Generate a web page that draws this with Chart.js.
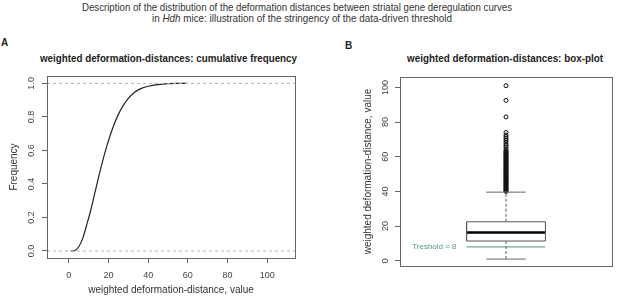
<!DOCTYPE html>
<html>
<head>
<meta charset="utf-8">
<script src="https://cdn.jsdelivr.net/npm/chart.js@4.4.0/dist/chart.umd.min.js"></script>
<style>
  body { margin: 0; background: #fff; font-family: "Liberation Sans", Arial, sans-serif; }
  #page { position: relative; width: 617px; height: 298px; overflow: hidden; }
  .txt { position: absolute; color: #333; white-space: nowrap; transform-origin: left top; }
  canvas { position: absolute; }
</style>
</head>
<body>
<div id="page">
  <div class="txt" id="t1" style="top:2px;font-size:10.5px;line-height:10.5px;">Description of the distribution of the deformation distances between striatal gene deregulation curves</div>
  <div class="txt" id="t2" style="top:13px;font-size:10.5px;line-height:10.5px;">in <i>Hdh</i> mice: illustration of the stringency of the data-driven threshold</div>
  <div class="txt" style="left:1px;top:37px;font-size:10px;font-weight:bold;color:#222;">A</div>
  <div class="txt" style="left:345px;top:40px;font-size:10px;font-weight:bold;color:#222;">B</div>
  <div class="txt" id="tA" style="top:53.5px;font-size:10px;line-height:10px;font-weight:bold;color:#222;">weighted deformation-distances: cumulative frequency</div>
  <div class="txt" id="tB" style="top:54px;font-size:10px;line-height:10px;font-weight:bold;color:#222;">weighted deformation-distances: box-plot</div>
  <canvas id="chartA" width="310" height="238" style="left:0;top:60px;"></canvas>
  <canvas id="chartB" width="297" height="238" style="left:320px;top:60px;"></canvas>
</div>
<script>
// panel A: cumulative frequency of weighted deformation-distances
const cdfX = [1, 3, 5, 7, 9, 11, 13, 15, 17, 19, 21, 23, 25, 27, 30, 33, 36, 40, 45, 50, 55, 59.6];
const cdfY = [0, 0.003, 0.025, 0.075, 0.155, 0.24, 0.34, 0.44, 0.535, 0.62, 0.695, 0.76, 0.815, 0.86, 0.91, 0.945, 0.967, 0.983, 0.993, 0.998, 1.0, 1.0];
const cdfXTicks = [0, 20, 40, 60, 80, 100];
const cdfYTicks = [0, 0.2, 0.4, 0.6, 0.8, 1.0];
const cdfRefLines = [0, 1];

// panel B: box-plot (lower whisker, Q1, median, Q3, upper whisker)
const boxFive = [1, 11.4, 16.3, 22.5, 39.6];
const boxOutliers = [
  40, 40.5, 41, 41.5, 42, 42.5, 43, 43.5, 44, 44.5, 45, 45.5, 46, 46.5, 47, 47.5,
  48, 48.5, 49, 49.5, 50, 50.5, 51, 51.5, 52, 52.5, 53, 53.5, 54, 54.5, 55, 55.5,
  56, 56.5, 57, 57.5, 58, 58.5, 59, 59.5, 60, 60.5, 61, 61.5, 62, 62.5, 63, 63.5,
  64.5, 65.5, 66.5, 67.5, 68.5, 69.5, 70.5, 71.5, 72.5, 74, 83, 92.5, 101
];
const boxYTicks = [0, 20, 40, 60, 80, 100];
const threshold = 8;
const thresholdLabel = 'Treshold = 8';

const FONT = '"Liberation Sans", Arial, sans-serif';
const AXIS_COL = '#666';
const TEXT_COL = '#444';

// stretch a text line to the span it has in the figure
function fitText(id, left, width) {
  const el = document.getElementById(id);
  const w = el.getBoundingClientRect().width;
  el.style.left = left + 'px';
  el.style.transform = 'scaleX(' + (width / w) + ')';
}
fitText('t1', 82, 430);
fitText('t2', 152, 300);
fitText('tA', 40, 257);
fitText('tB', 407, 196);

// draws the R-style box around the plot region
const frame = {
  id: 'frame',
  afterDatasetsDraw(chart) {
    const a = chart.chartArea, ctx = chart.ctx;
    ctx.save();
    ctx.strokeStyle = AXIS_COL;
    ctx.lineWidth = 1;
    ctx.strokeRect(Math.round(a.left) + 0.5, Math.round(a.top) + 0.5,
      Math.round(a.right - a.left), Math.round(a.bottom - a.top));
    ctx.restore();
  }
};

function tickOpts(fmt, pad) {
  return { font: { family: FONT, size: 9 }, color: TEXT_COL, padding: pad, callback: fmt };
}

const chartA = new Chart(document.getElementById('chartA'), {
  type: 'scatter',
  data: {
    datasets: [
      ...cdfRefLines.map(v => ({
        data: [{ x: -11, y: v }, { x: 114, y: v }],
        showLine: true, borderColor: '#b5b5b5', borderWidth: 1, borderDash: [3, 3],
        pointRadius: 0
      })),
      {
        data: cdfX.map((x, i) => ({ x, y: cdfY[i] })),
        showLine: true, borderColor: '#222', borderWidth: 1.2,
        cubicInterpolationMode: 'monotone', pointRadius: 0
      }
    ]
  },
  options: {
    responsive: false, animation: false, devicePixelRatio: 1,
    layout: { padding: { left: 0, top: 16, right: 15, bottom: 0 } },
    plugins: { legend: { display: false }, tooltip: { enabled: false } },
    scales: {
      x: {
        type: 'linear', min: -11, max: 114,
        afterBuildTicks: s => { s.ticks = cdfXTicks.map(v => ({ value: v })); },
        afterFit: s => { s.height = 40; },
        grid: { drawOnChartArea: false, tickLength: 5, color: AXIS_COL },
        border: { display: false },
        ticks: tickOpts(v => v, 7),
        title: { display: true, text: 'weighted deformation-distance, value', color: '#333',
          font: { family: FONT, size: 10 }, padding: { top: 0, bottom: 2 } }
      },
      y: {
        type: 'linear', min: -0.042, max: 1.044,
        afterBuildTicks: s => { s.ticks = cdfYTicks.map(v => ({ value: v })); },
        afterFit: s => { s.width = 47; },
        grid: { drawOnChartArea: false, tickLength: 5, color: AXIS_COL },
        border: { display: false },
        ticks: Object.assign(tickOpts(v => v.toFixed(1), 4),
          { minRotation: 90, maxRotation: 90, crossAlign: 'center' }),
        title: { display: true, text: 'Frequency', color: '#333',
          font: { family: FONT, size: 10 }, padding: { top: 8, bottom: 0 } }
      }
    }
  },
  plugins: [frame]
});

const X0 = 0.814, X1 = 1.186, C0 = 0.907, C1 = 1.093;
const [wLo, q1, med, q3, wHi] = boxFive;

const thresholdText = {
  id: 'thresholdText',
  afterDatasetsDraw(chart) {
    const ctx = chart.ctx, xs = chart.scales.x, ys = chart.scales.y;
    ctx.save();
    ctx.fillStyle = '#4f9a78';
    ctx.font = '8px ' + FONT;
    ctx.textAlign = 'right';
    ctx.textBaseline = 'middle';
    ctx.fillText(thresholdLabel, xs.getPixelForValue(X0) - 10, ys.getPixelForValue(threshold));
    ctx.restore();
  }
};

const seg = (pts, color, width, dash) => ({
  data: pts, showLine: true, borderColor: color, borderWidth: width,
  borderDash: dash || [], pointRadius: 0
});

const chartB = new Chart(document.getElementById('chartB'), {
  type: 'scatter',
  data: {
    datasets: [
      seg([{ x: 1, y: wLo }, { x: 1, y: q1 }], '#777', 1.2, [3, 2]),
      seg([{ x: 1, y: q3 }, { x: 1, y: wHi }], '#777', 1.2, [3, 2]),
      seg([{ x: C0, y: wLo }, { x: C1, y: wLo }], '#666', 1),
      seg([{ x: C0, y: wHi }, { x: C1, y: wHi }], '#666', 1),
      seg([{ x: X0, y: q1 }, { x: X1, y: q1 }, { x: X1, y: q3 }, { x: X0, y: q3 }, { x: X0, y: q1 }], '#555', 1),
      seg([{ x: X0, y: med }, { x: X1, y: med }], '#000', 2.5),
      seg([{ x: X0, y: threshold }, { x: X1, y: threshold }], '#4f9a78', 1),
      {
        data: boxOutliers.map(v => ({ x: 1, y: v })),
        pointRadius: 2, pointBorderWidth: 1, borderColor: '#111',
        backgroundColor: 'rgba(0,0,0,0)'
      }
    ]
  },
  options: {
    responsive: false, animation: false, devicePixelRatio: 1,
    layout: { padding: { left: 0, top: 17, right: 2, bottom: 32 } },
    plugins: { legend: { display: false }, tooltip: { enabled: false } },
    scales: {
      x: { type: 'linear', min: 0.5, max: 1.5, display: false },
      y: {
        type: 'linear', min: -3, max: 106,
        afterBuildTicks: s => { s.ticks = boxYTicks.map(v => ({ value: v })); },
        afterFit: s => { s.width = 80; },
        grid: { drawOnChartArea: false, tickLength: 5, color: AXIS_COL },
        border: { display: false },
        ticks: Object.assign(tickOpts(v => v, 2),
          { minRotation: 90, maxRotation: 90, crossAlign: 'center' }),
        title: { display: true, text: 'weighted deformation-distance, value', color: '#333',
          font: { family: FONT, size: 10 }, padding: { top: 42, bottom: 0 } }
      }
    }
  },
  plugins: [frame, thresholdText]
});
</script>
</body>
</html>
